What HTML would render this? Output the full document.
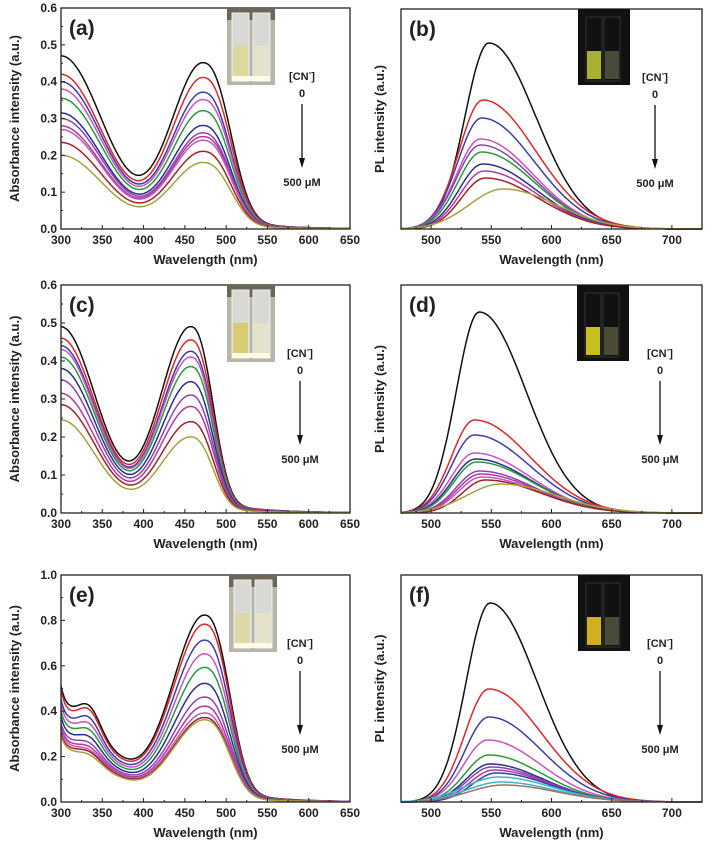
<!DOCTYPE html>
<html><head><meta charset="utf-8"><style>
html,body{margin:0;padding:0;background:#fff;}
svg{display:block;font-family:"Liberation Sans",Arial,sans-serif;}
</style></head><body>
<svg id="s" width="712" height="862" viewBox="0 0 712 862" xmlns="http://www.w3.org/2000/svg"></svg>
<script>
const S=document.getElementById('s');let out='';
const COLS={k:'#111',r:'#e0262a',b:'#3a3fa8',p:'#c855c0',v:'#8e44b0',g:'#2a9a3a',n:'#2a2f8a',m:'#b03aa0',d:'#a0222a',o:'#a8a040',c:'#3ab8c8',w:'#a07060'};
function path(pts){return 'M'+pts.map(p=>p[0].toFixed(1)+','+p[1].toFixed(1)).join('L');}
function panel(o){
 const {x0,x1,y0,y1}=o;
 const X=l=>x0+(l-o.lmin)/(o.lmax-o.lmin)*(x1-x0);
 o.series.forEach(s=>{
  const pts=[];
  for(let l=o.lmin;l<=o.lmax;l+=1){pts.push([X(l),s.f(l)]);}
  out+=`<path d="${path(pts)}" fill="none" stroke="${COLS[s.c]}" stroke-width="1.5"/>`;
 });
 out+=`<rect x="${x0}" y="${y0}" width="${x1-x0}" height="${y1-y0}" fill="none" stroke="#222" stroke-width="1.3"/>`;
 o.xt.forEach((l,i)=>{const x=X(l);out+=`<line x1="${x}" y1="${y1}" x2="${x}" y2="${y1-4}" stroke="#222"/>`;
   const xm=X(l+o.xs/2); if(l+o.xs/2<o.lmax) out+=`<line x1="${xm}" y1="${y1}" x2="${xm}" y2="${y1-2}" stroke="#222"/>`;
   out+=`<text x="${x}" y="${y1+15}" font-size="12" font-weight="bold" text-anchor="middle" fill="#222">${l}</text>`;});
 const lm=(o.lmin+o.xt[0])/2; if(lm>o.lmin){const xm=X(lm);out+=`<line x1="${xm}" y1="${y1}" x2="${xm}" y2="${y1-2}" stroke="#222"/>`;}
 if(o.yt){o.yt.forEach(v=>{const y=y1-(v/o.ymax)*(y1-y0);out+=`<line x1="${x0}" y1="${y}" x2="${x0+4}" y2="${y}" stroke="#222"/>`;
   out+=`<text x="${x0-4}" y="${y+4}" font-size="12" font-weight="bold" text-anchor="end" fill="#222">${v.toFixed(1)}</text>`;});
   const st=o.yt[1]-o.yt[0];for(let v=st/2;v<o.ymax;v+=st){const y=y1-(v/o.ymax)*(y1-y0);out+=`<line x1="${x0}" y1="${y}" x2="${x0+2}" y2="${y}" stroke="#222"/>`;}}
 out+=`<text x="${(x0+x1)/2}" y="${y1+35}" font-size="13" font-weight="bold" text-anchor="middle" fill="#222">Wavelength (nm)</text>`;
 const yl=o.yt?14:379;const yc=(y0+y1)/2;
 out+=`<text transform="translate(${yl+5},${yc}) rotate(-90)" font-size="13" font-weight="bold" text-anchor="middle" fill="#222">${o.ylab}</text>`;
 out+=`<text x="${x0+8}" y="${y0+27}" font-size="21" font-weight="bold" fill="#222">${o.lab}</text>`;
 const ix=o.ix, iy=y0;
 if(o.dark){out+=`<rect x="${ix}" y="${iy}" width="52" height="76" fill="#111"/>
 <rect x="${ix+9}" y="${iy+42}" width="14" height="28" fill="${o.glow}"/><rect x="${ix+27}" y="${iy+42}" width="14" height="28" fill="#4a4a38"/>
 <rect x="${ix+8}" y="${iy+8}" width="16" height="64" fill="none" stroke="#333"/><rect x="${ix+26}" y="${iy+8}" width="16" height="64" fill="none" stroke="#333"/>`;}
 else{out+=`<rect x="${ix}" y="${iy}" width="48" height="77" fill="#b8b6a8"/><rect x="${ix}" y="${iy}" width="48" height="12" fill="#6a6658"/>
 <rect x="${ix+5}" y="${iy+5}" width="17" height="68" fill="#d8d8d4" stroke="#eee"/><rect x="${ix+26}" y="${iy+5}" width="17" height="68" fill="#d8d8d4" stroke="#eee"/>
 <rect x="${ix+6}" y="${iy+38}" width="15" height="32" fill="${o.sol}"/><rect x="${ix+27}" y="${iy+38}" width="15" height="32" fill="#e4e2c8"/>
 <rect x="${ix+5}" y="${iy+68}" width="38" height="5" fill="#fffbe8"/>`;}
 const tx=o.tx;
 out+=`<text x="${tx}" y="${y0+72}" font-size="11" font-weight="bold" text-anchor="middle" fill="#222">[CN<tspan dy="-5" font-size="8">-</tspan><tspan dy="5">]</tspan></text>
 <text x="${tx}" y="${y0+89}" font-size="11" font-weight="bold" text-anchor="middle" fill="#222">0</text>
 <line x1="${tx}" y1="${y0+96}" x2="${tx}" y2="${y0+152}" stroke="#111" stroke-width="1.3"/>
 <path d="M${tx-3},${y0+150}L${tx+3},${y0+150}L${tx},${y0+160}Z" fill="#111"/>
 <text x="${tx}" y="${y0+178}" font-size="11" font-weight="bold" text-anchor="middle" fill="#222">500 μM</text>`;
}
function abs(y0,y1,ymax,pk,wl,wr,uvw,peak,uv,sh,sp){
 return l=>{let g=l<pk?Math.exp(-Math.pow((pk-l)/wl,2)):Math.exp(-Math.pow((l-pk)/wr,2.4));
  if(l>pk) g+=0.09*(1-g)*Math.exp(-(l-pk)/55);
  let v=peak*g+uv*Math.exp(-Math.pow((l-300)/uvw,2))+(sh||0)*Math.exp(-Math.pow((l-335)/18,2))+(sp||0)*Math.exp(-(l-300)/6);
  return y1-v/ymax*(y1-y0);};
}
function pl(y1,h,pk,wl,wr){return l=>{let g=l<pk?Math.exp(-Math.pow((pk-l)/wl,2)):Math.exp(-Math.pow((l-pk)/wr,2));return y1-h*g;};}
const order1=['k','r','b','p','g','n','v','m','p','d','o'];
{const y0=8,y1=229;const pk=[0.45,0.41,0.37,0.35,0.32,0.28,0.26,0.25,0.24,0.21,0.18],uv=[0.47,0.42,0.40,0.38,0.355,0.315,0.30,0.28,0.27,0.235,0.20];
panel({x0:61,x1:350,y0,y1,lmin:300,lmax:650,xt:[300,350,400,450,500,550,600,650],xs:50,yt:[0,0.1,0.2,0.3,0.4,0.5,0.6],ymax:0.6,ylab:'Absorbance intensity (a.u.)',lab:'(a)',ix:227,sol:'#ddd8a0',tx:302,
series:order1.map((c,i)=>({c,f:abs(y0,y1,0.6,472,55,42,72,pk[i],uv[i])}))});}
{const y0=9,y1=229;const h=[186,129,111,90,84,77,65,58,51,40],pk=[548,543,542,541,541,542,543,544,545,560];const cs=['k','r','b','p','v','g','n','m','d','o'];
panel({x0:401,x1:702,y0,y1,lmin:475,lmax:725,xt:[500,550,600,650,700],xs:50,ylab:'PL intensity (a.u.)',lab:'(b)',ix:578,dark:1,glow:'#a8b030',tx:655,
series:cs.map((c,i)=>({c,f:pl(y1,h[i],pk[i],c=='o'?40:28,c=='k'?55:62)}))});}
{const y0=285,y1=513;const pk=[0.49,0.455,0.425,0.41,0.385,0.345,0.31,0.28,0.24,0.20],uv=[0.49,0.46,0.44,0.43,0.41,0.38,0.35,0.315,0.285,0.245];const cs=['k','r','b','p','g','n','v','m','d','o'];
panel({x0:61,x1:350,y0,y1,lmin:300,lmax:650,xt:[300,350,400,450,500,550,600,650],xs:50,yt:[0,0.1,0.2,0.3,0.4,0.5,0.6],ymax:0.6,ylab:'Absorbance intensity (a.u.)',lab:'(c)',ix:227,sol:'#d8cc70',tx:300,
series:cs.map((c,i)=>({c,f:abs(y0,y1,0.6,457,52,34,60,pk[i],uv[i])}))});}
{const y0=285,y1=513;const h=[201,93,78,60,54,51,42,39,36,33,29],pk=[540,536,536,536,537,538,540,541,542,545,558];const cs=['k','r','b','p','n','g','v','m','p','d','o'];
panel({x0:401,x1:702,y0,y1,lmin:475,lmax:725,xt:[500,550,600,650,700],xs:50,ylab:'PL intensity (a.u.)',lab:'(d)',ix:577,dark:1,glow:'#c8c020',tx:660,
series:cs.map((c,i)=>({c,f:pl(y1,h[i],pk[i],c=='o'?40:27,c=='k'?55:65)}))});}
{const y0=575,y1=802;const pk=[0.82,0.78,0.71,0.65,0.59,0.52,0.46,0.42,0.39,0.37,0.36],uv=[0.40,0.38,0.35,0.33,0.31,0.285,0.265,0.25,0.24,0.23,0.22],sh=[0.09,0.09,0.08,0.07,0.06,0.05,0.04,0.035,0.03,0.03,0.025],sp=[0.11,0.11,0.1,0.1,0.09,0.09,0.08,0.08,0.08,0.07,0.07];
panel({x0:61,x1:350,y0,y1,lmin:300,lmax:650,xt:[300,350,400,450,500,550,600,650],xs:50,yt:[0,0.2,0.4,0.6,0.8,1.0],ymax:1.0,ylab:'Absorbance intensity (a.u.)',lab:'(e)',ix:229,sol:'#ddd8a8',tx:300,
series:order1.map((c,i)=>({c,f:abs(y0,y1,1.0,474,55,38,80,pk[i],uv[i],sh[i],sp[i])}))});}
{const y0=575,y1=802;const h=[199,113,85,62,47,38,35,32,29,25,20,17],pk=[549,548,548,547,548,549,550,552,554,556,558,560];const cs=['k','r','b','p','g','n','v','m','b','c','c','w'];
panel({x0:401,x1:702,y0,y1,lmin:475,lmax:725,xt:[500,550,600,650,700],xs:50,ylab:'PL intensity (a.u.)',lab:'(f)',ix:578,dark:1,glow:'#d0b020',tx:660,
series:cs.map((c,i)=>({c,f:pl(y1,h[i],pk[i],i>8?40:28,c=='k'?55:62)}))});}
S.innerHTML=out;
</script>
</body></html>
